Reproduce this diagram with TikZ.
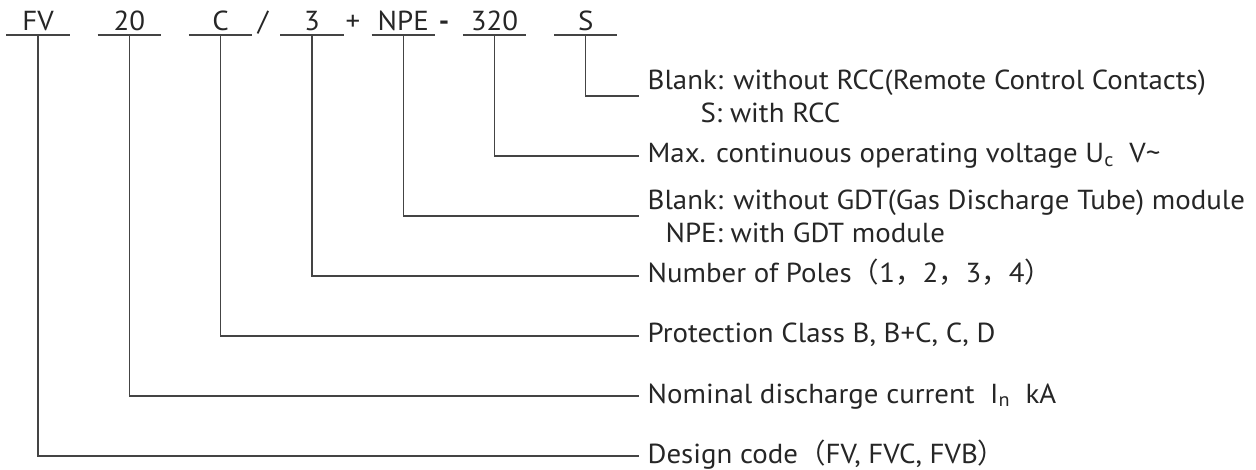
\documentclass[tikz,border=0pt]{standalone}
\usepackage{fontspec}
\setmainfont[FakeStretch=1.05]{PT Sans}
\newfontfamily\cjk{Noto Sans CJK SC}
\usetikzlibrary{positioning}
\definecolor{cink}{HTML}{262626}
\definecolor{cline}{HTML}{444444}
\newcommand{\fw}[1]{{\cjk #1}}
\tikzset{
  every picture/.style={font=\fontsize{27.5}{33}\selectfont, text=cink, line width=1.3pt},
  code/.style={minimum width=62pt, inner sep=0pt, text height=19pt, text depth=4pt, anchor=south},
  sep/.style={inner sep=0pt, anchor=base},
  desc/.style={anchor=west, inner xsep=8pt, inner ysep=0pt, text height=20pt, text depth=6pt},
  desctwo/.style={anchor=west, inner xsep=8pt, inner ysep=0pt, align=left},
  lead/.style={draw=cline},
}

\begin{document}
\begin{tikzpicture}[x=1pt, y=-1pt]
  \useasboundingbox (0,0) rectangle (1256,470);
  \node[code] (fv) at (38,35) {FV};
  \node[code, right=28pt of fv] (cur) {20};
  \node[code, right=28pt of cur] (cls) {C};
  \node[code, right=28pt of cls] (pole) {3};
  \node[code, right=28pt of pole] (npe) {NPE};
  \node[code, right=28pt of npe] (volt) {320};
  \node[code, right=28pt of volt] (rcc) {S};
  \node[sep] (slash) at (263,31) {/};
  \node[sep] (plus) at (353,31) {+};
  \node[sep] (dash) at (444,31) {\textbf{-}};
  \node[desctwo] (drcc) at (639,96) {Blank: without RCC(Remote Control Contacts)\\\hspace*{53pt}S: with RCC};
  \node[desc] (dvolt) at (639,156) {Max. continuous operating voltage U\textsubscript{c}\ \ V\textasciitilde};
  \node[desctwo] (dgdt) at (639,216) {Blank: without GDT(Gas Discharge Tube) module\\\hspace*{18pt}NPE: with GDT module};
  \node[desc] (dpole) at (639,276) {Number of Poles\fw{（}1\fw{，}2\fw{，}3\fw{，}4\fw{）}};
  \node[desc] (dcls) at (639,336) {Protection Class B, B+C, C, D};
  \node[desc] (dcur) at (639,396) {Nominal discharge current\ \ I\textsubscript{n}\ \ kA};
  \node[desc] (dfv) at (639,456) {Design code\fw{（}FV, FVC, FVB\fw{）}};
  \draw[lead] (fv.south west) -- (fv.south east);
  \draw[lead] (cur.south west) -- (cur.south east);
  \draw[lead] (cls.south west) -- (cls.south east);
  \draw[lead] (pole.south west) -- (pole.south east);
  \draw[lead] (npe.south west) -- (npe.south east);
  \draw[lead] (volt.south west) -- (volt.south east);
  \draw[lead] (rcc.south west) -- (rcc.south east);
  \draw[lead] (rcc.south) |- (drcc.west);
  \draw[lead] (volt.south) |- (dvolt.west);
  \draw[lead] (npe.south) |- (dgdt.west);
  \draw[lead] (pole.south) |- (dpole.west);
  \draw[lead] (cls.south) |- (dcls.west);
  \draw[lead] (cur.south) |- (dcur.west);
  \draw[lead] (fv.south) |- (dfv.west);
\end{tikzpicture}
\end{document}
